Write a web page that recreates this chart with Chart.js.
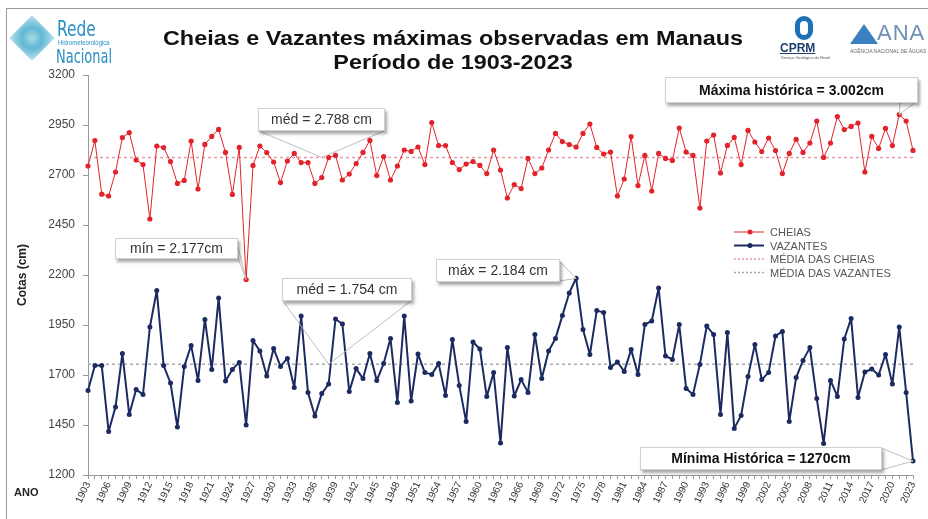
<!DOCTYPE html>
<html>
<head>
<meta charset="utf-8">
<script src="https://cdn.jsdelivr.net/npm/chart.js@4.4.0/dist/chart.umd.min.js"></script>
<style>
  body { margin: 0; background: #fff; font-family: "Liberation Sans", Arial, sans-serif; }
  #wrap { position: relative; width: 928px; height: 519px; overflow: hidden; }
  #grafico { position: absolute; left: 0; top: 0; }
  .moldura { position: absolute; left: 6px; top: 8px; width: 940px; height: 540px; border-left: 1.5px solid #999; border-top: 1.5px solid #999; }
  #titulo { position: absolute; left: 153px; width: 600px; top: 26px; text-align: center; font-weight: bold; font-size: 20px; line-height: 24px; color: #111; transform: scaleX(1.17); transform-origin: 300px 0; }
  .rede-icone { position: absolute; left: 16px; top: 22px; width: 32px; height: 32px; transform: rotate(45deg);
    background: radial-gradient(circle, #8fd6e4 0%, #3aa6c9 45%, #a9dbe8 100%); opacity: .8; }
  .rede1 { position: absolute; left: 57px; top: 16px; font: 22px "Liberation Sans Narrow", "DejaVu Sans Condensed", sans-serif; color: #2a8fc2; transform: scaleX(0.78); transform-origin: 0 0; }
  .rede2 { position: absolute; left: 58px; top: 39px; font: 7px "Liberation Sans Narrow", sans-serif; color: #2a8fc2; transform: scaleX(0.85); transform-origin: 0 0; }
  .rede3 { position: absolute; left: 56px; top: 44px; font: 20px "Liberation Sans Narrow", "DejaVu Sans Condensed", sans-serif; color: #2a8fc2; transform: scaleX(0.72); transform-origin: 0 0; }
  .cprm-icone { position: absolute; left: 795px; top: 16px; width: 18px; height: 24px; border: 5px solid #1d71b8; border-radius: 9px; box-sizing: border-box; }
  .cprm { position: absolute; left: 780px; top: 41px; font: bold 12px "Liberation Sans", sans-serif; color: #1c3d6e; text-decoration: underline; }
  .cprm2 { position: absolute; left: 781px; top: 55px; font: 4px sans-serif; color: #555; }
  .ana-icone { position: absolute; left: 850px; top: 24px; width: 0; height: 0; border-left: 14px solid transparent; border-right: 14px solid transparent; border-bottom: 20px solid #3d7fc1; }
  .ana { position: absolute; left: 877px; top: 20px; font: 22px "Liberation Sans", sans-serif; color: #6f8fb5; letter-spacing: 1px; }
  .ana2 { position: absolute; left: 850px; top: 48px; font: 5px sans-serif; color: #666; white-space: nowrap; }
</style>
</head>
<body>
<div id="wrap">
  <canvas id="grafico" width="928" height="519"></canvas>
  <div class="moldura"></div>
  <div class="rede-icone"></div>
  <div class="rede1">Rede</div>
  <div class="rede2">Hidrometeorológica</div>
  <div class="rede3">Nacional</div>
  <div id="titulo">Cheias e Vazantes máximas observadas em Manaus<br>Período de 1903-2023</div>
  <div class="cprm-icone"></div>
  <div class="cprm">CPRM</div>
  <div class="cprm2">Serviço Geológico do Brasil</div>
  <div class="ana-icone"></div>
  <div class="ana">ANA</div>
  <div class="ana2">AGÊNCIA NACIONAL DE ÁGUAS</div>
</div>
<script>

// anos da serie (categorias)
var ANO_INICIAL = 1903;
var ANO_FINAL = 2023;
var anos = [];
for (var a = ANO_INICIAL; a <= ANO_FINAL; a++) {
  anos.push(String(a));
}

// cotas maximas (cheias), cm
var cheias = [
  2745, 2872, 2604, 2595, 2715, 2887, 2912, 2775, 2752, 2480, // 1903-1912
  2845, 2837, 2767, 2658, 2673, 2870, 2630, 2853, 2893, 2928, // 1913-1922
  2813, 2603, 2838, 2177, 2748, 2845, 2812, 2765, 2662, 2770, // 1923-1932
  2808, 2762, 2762, 2658, 2687, 2787, 2798, 2675, 2705, 2757, // 1933-1942
  2813, 2873, 2697, 2792, 2675, 2745, 2825, 2818, 2840, 2752, // 1943-1952
  2962, 2847, 2847, 2762, 2727, 2755, 2767, 2748, 2707, 2825, // 1953-1962
  2725, 2585, 2652, 2632, 2783, 2707, 2735, 2825, 2908, 2867, // 1963-1972
  2852, 2840, 2908, 2955, 2838, 2805, 2815, 2595, 2680, 2892, // 1973-1982
  2647, 2798, 2620, 2808, 2783, 2773, 2935, 2815, 2798, 2535, // 1983-1992
  2870, 2900, 2710, 2848, 2888, 2752, 2923, 2865, 2817, 2885, // 1993-2002
  2822, 2707, 2808, 2878, 2813, 2860, 2970, 2788, 2860, 2992, // 2003-2012
  2927, 2943, 2960, 2715, 2893, 2833, 2933, 2847, 3002, 2970, // 2013-2022
  2823                                                        // 2023
];

// cotas minimas (vazantes), cm
var vazantes = [
  1622, 1747, 1747, 1417, 1540, 1807, 1502, 1627, 1603, 1940,
  2122, 1747, 1660, 1440, 1743, 1848, 1673, 1978, 1728, 2085,
  1670, 1728, 1763, 1450, 1872, 1820, 1695, 1832, 1743, 1783,
  1638, 1995, 1612, 1495, 1607, 1655, 1980, 1955, 1617, 1732,
  1682, 1807, 1672, 1757, 1882, 1563, 1995, 1570, 1805, 1712,
  1703, 1757, 1598, 1877, 1648, 1467, 1865, 1830, 1592, 1712,
  1360, 1838, 1595, 1677, 1613, 1902, 1683, 1820, 1883, 1997,
  2110, 2184, 1928, 1802, 2022, 2013, 1738, 1765, 1718, 1827,
  1703, 1953, 1970, 2135, 1795, 1778, 1952, 1632, 1603, 1753,
  1945, 1902, 1503, 1912, 1433, 1498, 1692, 1853, 1677, 1713,
  1895, 1918, 1468, 1687, 1773, 1837, 1582, 1358, 1673, 1593,
  1880, 1983, 1588, 1715, 1730, 1700, 1802, 1655, 1940, 1613,
  1270
];

var MEDIA_CHEIAS = 2788;
var MEDIA_VAZANTES = 1754;

// marcas do eixo Y
var Y_MIN = 1200;
var Y_MAX = 3200;
var Y_PASSO = 250;

var COR_CHEIAS = '#e3232b';
var COR_VAZANTES = '#1b2b62';
var COR_MEDIA_CHEIAS = '#e79aa2';
var COR_MEDIA_VAZANTES = '#a9a9a9';

// caixas de texto com seta (posicao da caixa em px, ponta da seta pelo ano/valor)
var chamadas = [
  {texto: 'méd = 2.788 cm', negrito: false, ano: '1937', valor: MEDIA_CHEIAS, caixa: [258, 108, 127, 23], base: [[259, 131], [384, 131]], fundo: false},
  {texto: 'mín = 2.177cm', negrito: false, ano: '1926', valor: 2177, caixa: [115, 238, 123, 21], base: [[236, 239], [238, 258]], fundo: true},
  {texto: 'méd = 1.754 cm', negrito: false, ano: '1938', valor: MEDIA_VAZANTES, caixa: [282, 278, 130, 23], base: [[283, 301], [411, 301]], fundo: false},
  {texto: 'máx = 2.184 cm', negrito: false, ano: '1974', valor: 2184, caixa: [436, 259, 124, 23], base: [[558, 260], [560, 281]], fundo: true},
  {texto: 'Máxima histórica = 3.002cm', negrito: true, ano: '2021', valor: 3002, caixa: [665, 77, 253, 26], base: [[900, 103], [917, 101]], fundo: true},
  {texto: 'Mínima Histórica = 1270cm', negrito: true, ano: '2023', valor: 1270, caixa: [640, 447, 242, 23], base: [[881, 448], [881, 470]], fundo: true}
];

var legenda = [
  {texto: 'CHEIAS', cor: COR_CHEIAS, ponto: true, tracejado: false},
  {texto: 'VAZANTES', cor: COR_VAZANTES, ponto: true, tracejado: false},
  {texto: 'MÉDIA DAS CHEIAS', cor: COR_MEDIA_CHEIAS, ponto: false, tracejado: true},
  {texto: 'MÉDIA DAS VAZANTES', cor: COR_MEDIA_VAZANTES, ponto: false, tracejado: true}
];

function desenhaChamada(ctx, chart, c) {
  var x = chart.scales.x.getPixelForValue(anos.indexOf(c.ano));
  var y = chart.scales.y.getPixelForValue(c.valor);

  // seta
  ctx.save();
  ctx.beginPath();
  ctx.moveTo(c.base[0][0], c.base[0][1]);
  ctx.lineTo(x, y);
  ctx.lineTo(c.base[1][0], c.base[1][1]);
  if (c.fundo) {
    ctx.closePath();
    ctx.fillStyle = '#fff';
    ctx.fill();
  }
  ctx.strokeStyle = '#bdbdbd';
  ctx.lineWidth = 1;
  ctx.stroke();
  ctx.restore();

  // caixa
  var b = c.caixa;
  ctx.save();
  ctx.shadowColor = 'rgba(0,0,0,0.35)';
  ctx.shadowOffsetX = 2;
  ctx.shadowOffsetY = 3;
  ctx.shadowBlur = 3;
  ctx.fillStyle = '#fff';
  ctx.fillRect(b[0], b[1], b[2], b[3]);
  ctx.restore();
  ctx.save();
  ctx.strokeStyle = '#d0d0d0';
  ctx.strokeRect(b[0] + 0.5, b[1] + 0.5, b[2] - 1, b[3] - 1);
  ctx.fillStyle = c.negrito ? '#111' : '#333';
  ctx.font = (c.negrito ? 'bold 14px' : '14px') + ' "Liberation Sans", Arial, sans-serif';
  ctx.textAlign = 'center';
  ctx.textBaseline = 'middle';
  ctx.fillText(c.texto, b[0] + b[2] / 2, b[1] + b[3] / 2 + 1);
  ctx.restore();
}

function desenhaLegenda(ctx) {
  var x0 = 734, y0 = 232, dy = 13.5;
  ctx.save();
  ctx.font = '11px "Liberation Sans", Arial, sans-serif';
  ctx.textBaseline = 'middle';
  for (var i = 0; i < legenda.length; i++) {
    var l = legenda[i];
    var y = y0 + i * dy;
    ctx.beginPath();
    ctx.strokeStyle = l.cor;
    ctx.lineWidth = l.tracejado ? 1.5 : (i == 1 ? 2 : 1);
    ctx.setLineDash(l.tracejado ? [2, 2] : []);
    ctx.moveTo(x0, y);
    ctx.lineTo(x0 + 30, y);
    ctx.stroke();
    if (l.ponto) {
      ctx.beginPath();
      ctx.fillStyle = l.cor;
      ctx.arc(x0 + 16, y, 2.5, 0, Math.PI * 2);
      ctx.fill();
    }
    ctx.fillStyle = '#555';
    ctx.fillText(l.texto, x0 + 36, y + 1);
  }
  ctx.restore();
}

var extras = {
  id: 'extras',
  afterDatasetsDraw: function(chart) {
    var ctx = chart.ctx;
    for (var i = 0; i < chamadas.length; i++) {
      desenhaChamada(ctx, chart, chamadas[i]);
    }
    desenhaLegenda(ctx);
    ctx.save();
    ctx.font = 'bold 11px "Liberation Sans", Arial, sans-serif';
    ctx.fillStyle = '#222';
    ctx.fillText('ANO', 14, 496);
    ctx.restore();
  }
};

function mediaLinha(valor) {
  return anos.map(function() { return valor; });
}

function grafico() {
  var ctx = document.getElementById('grafico').getContext('2d');
  new Chart(ctx, {
    type: 'line',
    data: {
      labels: anos,
      datasets: [
        {label: 'CHEIAS', data: cheias, borderColor: COR_CHEIAS, backgroundColor: COR_CHEIAS, borderWidth: 1, borderJoinStyle: 'round', pointRadius: 2.6, pointBorderWidth: 0, tension: 0},
        {label: 'VAZANTES', data: vazantes, borderColor: COR_VAZANTES, backgroundColor: COR_VAZANTES, borderWidth: 2, borderJoinStyle: 'round', pointRadius: 2.5, pointBorderWidth: 0, tension: 0},
        {label: 'MÉDIA DAS CHEIAS', data: mediaLinha(MEDIA_CHEIAS), borderColor: COR_MEDIA_CHEIAS, borderWidth: 1.5, borderDash: [3, 3], pointRadius: 0},
        {label: 'MÉDIA DAS VAZANTES', data: mediaLinha(MEDIA_VAZANTES), borderColor: COR_MEDIA_VAZANTES, borderWidth: 1.5, borderDash: [3, 3], pointRadius: 0}
      ]
    },
    options: {
      responsive: false,
      animation: false,
      layout: {padding: {top: 75, right: 15, left: 0, bottom: 0}},
      plugins: {legend: {display: false}, tooltip: {enabled: false}},
      scales: {
        x: {
          offset: false,
          grid: {drawOnChartArea: false, tickLength: 4, color: '#999'},
          border: {color: '#999'},
          ticks: {
            autoSkip: false, maxRotation: 65, minRotation: 65, padding: 1,
            font: {size: 10, family: '"Liberation Sans", Arial, sans-serif'}, color: '#333',
            callback: function(v, i) { return (i % 3 === 0) ? anos[i] : ''; }
          },
          afterFit: function(s) { s.height = 44; }
        },
        y: {
          min: Y_MIN, max: Y_MAX,
          grid: {drawOnChartArea: false, tickLength: 5, color: '#999'},
          border: {color: '#999'},
          ticks: {
            stepSize: Y_PASSO, padding: 8,
            font: {size: 12, family: '"Liberation Sans", Arial, sans-serif'}, color: '#444',
            callback: function(v) { return String(v); }
          },
          title: {display: true, text: 'Cotas (cm)', font: {size: 12, weight: 'bold', family: '"Liberation Sans", Arial, sans-serif'}, color: '#222', padding: {top: 15, bottom: 0}},
          afterFit: function(s) { s.width = 88; }
        }
      }
    },
    plugins: [extras]
  });
}

grafico();
</script>
</body>
</html>
